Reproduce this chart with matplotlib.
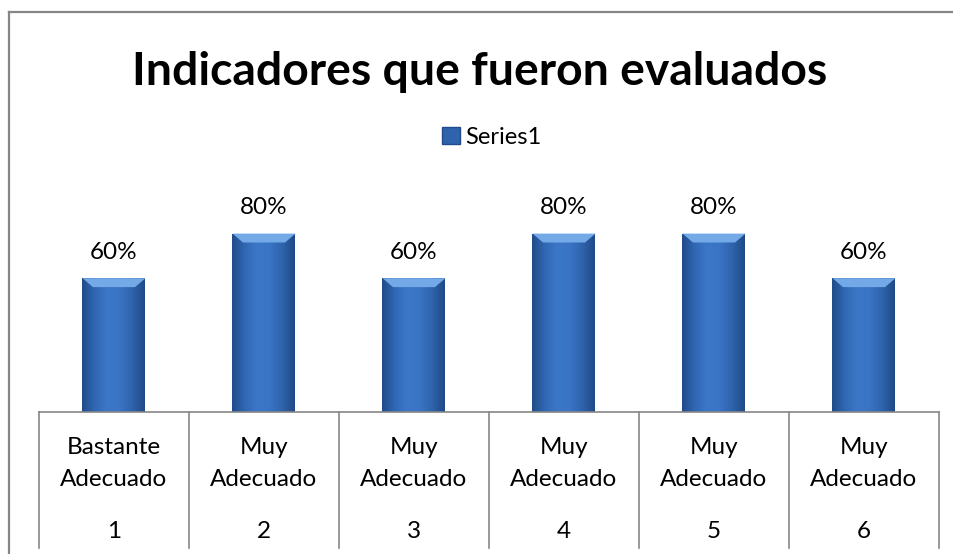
import numpy as np
import matplotlib
matplotlib.use("Agg")
import matplotlib.pyplot as plt
from matplotlib.colors import LinearSegmentedColormap
from matplotlib.patches import Patch, Polygon
from matplotlib.lines import Line2D

plt.rcParams['font.family'] = ['Lato', 'DejaVu Sans']

# datos
numeros = ['1', '2', '3', '4', '5', '6']
categorias = ['Bastante\nAdecuado', 'Muy\nAdecuado', 'Muy\nAdecuado',
              'Muy\nAdecuado', 'Muy\nAdecuado', 'Muy\nAdecuado']
valores = [0.60, 0.80, 0.60, 0.80, 0.80, 0.60]
etiquetas = ['60%', '80%', '60%', '80%', '80%', '60%']
titulo = 'Indicadores que fueron evaluados'
serie = 'Series1'

W, H = 954, 554
fig = plt.figure(figsize=(W / 100, H / 100), dpi=100)

# area del grafico en pixeles
x0, x1 = 39, 939
y_base, y_top = 412, 189
ax = fig.add_axes([x0 / W, 1 - y_base / H, (x1 - x0) / W, (y_base - y_top) / H])

gris = '#868686'
fs = 17.5
x = np.arange(len(valores))
ancho = 0.42
barras = ax.bar(x, valores, width=ancho, color='#2f63ad', zorder=2)

# degradado horizontal para imitar el estilo de Excel
cmap = LinearSegmentedColormap.from_list(
    'excel', ['#214c8a', '#3068b4', '#3c77c7', '#3a74c4', '#2f64ae', '#204a87'])
grad = np.linspace(0, 1, 64).reshape(1, -1)
dx, dy = 0.07, 0.04
for b in barras:
    bx, by, bw, bh = b.get_x(), b.get_y(), b.get_width(), b.get_height()
    im = ax.imshow(grad, extent=[bx, bx + bw, by, by + bh], aspect='auto',
                   cmap=cmap, zorder=3)
    im.set_clip_path(b)
    top = by + bh
    # bisel superior
    ax.add_patch(Polygon([(bx, top), (bx + bw, top), (bx + bw - dx, top - dy),
                          (bx + dx, top - dy)], closed=True,
                         facecolor='#72a9e6', edgecolor='none', zorder=4))

ax.set_xlim(-0.5, len(valores) - 0.5)
ax.set_ylim(0, 1)
ax.axis('off')

# etiquetas de datos
for xi, v, t in zip(x, valores, etiquetas):
    ax.annotate(t, xy=(xi, v), xytext=(0, 26 * 0.72), textcoords='offset points',
                ha='center', va='center', fontsize=fs)

# eje de categorias en forma de tabla
ax.plot([-0.5, len(valores) - 0.5], [0, 0], color=gris, lw=1.2, clip_on=False, zorder=5)
for xs in np.arange(-0.5, len(valores), 1.0):
    ax.add_line(Line2D([xs, xs], [0, -136 / 223], color=gris, lw=1.2, clip_on=False))
for xi, c, n in zip(x, categorias, numeros):
    l1, l2 = c.split('\n')
    ax.annotate(l1, xy=(xi, 0), xytext=(0, -36 * 0.72), textcoords='offset points',
                ha='center', va='center', fontsize=fs)
    ax.annotate(l2, xy=(xi, 0), xytext=(0, -67 * 0.72), textcoords='offset points',
                ha='center', va='center', fontsize=fs)
    ax.annotate(n, xy=(xi, 0), xytext=(0, -119 * 0.72), textcoords='offset points',
                ha='center', va='center', fontsize=fs)

# titulo y leyenda
fig.text(480 / W, 1 - 72 / H, titulo, ha='center', va='center',
         fontsize=33.3, fontweight='bold')
fig.legend(handles=[Patch(facecolor='#2f63ad', edgecolor='#214c8a', label=serie)],
           loc='center', bbox_to_anchor=(492 / W, 1 - 137 / H), frameon=False,
           fontsize=17, handlelength=0.75, handleheight=0.75, handletextpad=0.25,
           borderpad=0.2)

# borde exterior del grafico (recortado a derecha y abajo)
fig.add_artist(Line2D([9 / W, 9 / W], [0, 1 - 12 / H], color=gris, lw=1.6))
fig.add_artist(Line2D([9 / W, 1], [1 - 12 / H, 1 - 12 / H], color=gris, lw=1.6))

fig.savefig('out.png', dpi=100)
